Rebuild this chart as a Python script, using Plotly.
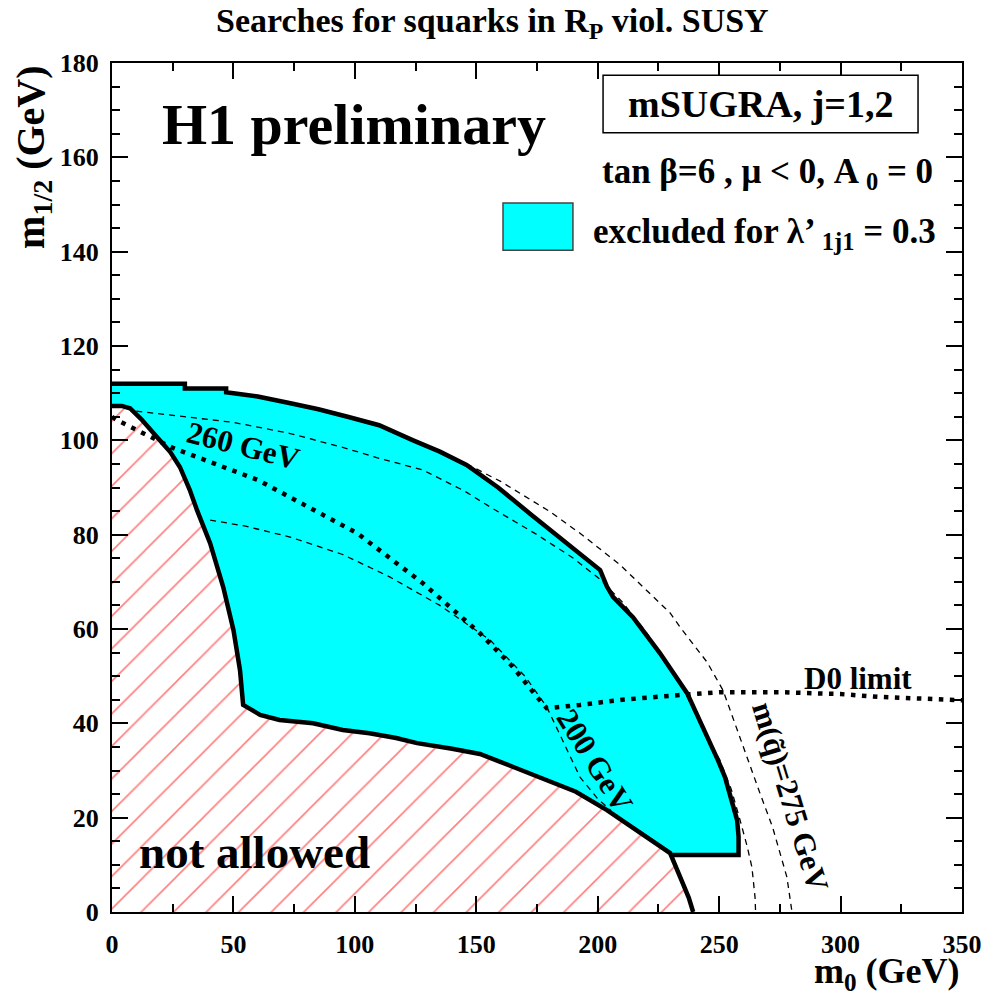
import plotly.graph_objects as go

# ---------------- data ----------------
# upper boundary of the excluded region (m0, m1/2) in GeV
outer_m0 = [0, 30, 30, 47, 47, 60, 73, 85, 97, 110, 124, 135, 146, 159, 172, 184,
            195.6, 201, 203.8, 206.3, 214.5, 225.6, 236.8, 242, 249.5, 252.4, 257.4,
            258, 258, 230.6]
outer_m12 = [112, 112, 111, 111, 110.2, 109.3, 107.9, 106.6, 105, 103.2, 100, 97.6,
             94.8, 90, 84.5, 79.6, 74.6, 72.5, 69, 66.8, 62.5, 54.9, 46.4, 40.7, 32.2,
             28.6, 19.5, 16, 12.1, 12.1]

# boundary of the theoretically not allowed region
na_m0 = [0, 4, 7.4, 12, 18.5, 24, 28, 32, 35, 40.4, 45.8, 50, 52.7, 53.5, 54, 57, 61,
         69, 82.8, 95, 106, 117, 125.6, 140, 151.5, 165, 179, 191, 203.8, 217.4, 229.8,
         235, 237.5, 239.3]
na_m12 = [107.3, 107.3, 106.8, 104.5, 100.7, 97.5, 94.3, 89.5, 85.2, 78.2, 68.9, 59.8,
          51.3, 47, 43.9, 43, 41.8, 40.7, 40, 38.6, 37.9, 36.9, 35.8, 34.6, 33.5, 30.8,
          28, 25.5, 21.6, 16.7, 12.5, 6.1, 3, 0]

# squark mass contours
sq260_m0 = [10, 30, 50, 73, 95, 110, 128, 145, 155.6, 175, 190, 201, 210, 220, 229,
            236, 243, 250.3, 255, 258.6, 261.5, 263.5, 264.8, 265]
sq260_m12 = [106.2, 105, 103.8, 101.5, 98.5, 96.2, 93.7, 89.3, 85.9, 80, 75, 70.5,
             65.8, 59.3, 52.5, 46.6, 39, 32.2, 26, 19.5, 14, 9.5, 3, 0]

sq200_m0 = [40.4, 55, 73.3, 95, 114.5, 135, 155.6, 170, 179, 186, 192.7, 200, 205.5]
sq200_m12 = [83.1, 81.8, 79.5, 75.8, 71, 65, 57.7, 50, 43.5, 36, 28.6, 24, 21.5]

sq275_m0 = [146, 160, 180, 192.7, 209, 229.8, 233.9, 245, 251.6, 259.8, 266.8, 272,
            277.9, 280]
sq275_m12 = [95, 91.3, 85, 80.3, 73.7, 63.4, 60.4, 53, 47, 35, 25.2, 18, 7.4, 0]

# D0 limit
d0_m0 = [0, 2, 25, 60, 101, 128, 151.5, 165, 175, 179, 192.7, 210, 233.9, 250, 275,
         300, 316, 348, 350]
d0_m12 = [105, 104.3, 98.4, 91.6, 80.3, 69.7, 59.1, 52, 45.6, 43.2, 43.9, 45, 46,
          46.6, 46.6, 46.2, 45.6, 44.9, 44.9]

x_tick_vals = [0, 50, 100, 150, 200, 250, 300, 350]
y_tick_vals = [0, 20, 40, 60, 80, 100, 120, 140, 160, 180]

# ---------------- figure ----------------
FONT = "Liberation Serif"
fig = go.Figure()

# hatched "not allowed" region
fig.add_trace(go.Scatter(
    x=[0] + na_m0 + [0], y=[0] + na_m12 + [0],
    mode="lines", fill="toself", line=dict(width=0, color="rgba(0,0,0,0)"),
    fillcolor="rgba(0,0,0,0)",
    fillpattern=dict(shape="/", fgcolor="#ff0000", bgcolor="white", size=23,
                     solidity=0.07),
    hoverinfo="skip", showlegend=False))

# excluded region (cyan)
inner_back = [(a, b) for a, b in zip(na_m0, na_m12) if a < outer_m0[-1]][::-1]
cx = outer_m0 + [p[0] for p in inner_back]
cy = outer_m12 + [p[1] for p in inner_back]
fig.add_trace(go.Scatter(x=cx, y=cy, mode="lines", fill="toself",
                         fillcolor="#00ffff", line=dict(width=0),
                         hoverinfo="skip", showlegend=False))

# dashed squark-mass contours
for xs, ys in [(sq260_m0, sq260_m12), (sq200_m0, sq200_m12), (sq275_m0, sq275_m12)]:
    fig.add_trace(go.Scatter(x=xs, y=ys, mode="lines",
                             line=dict(color="black", width=1.3, dash="6px,5px"),
                             hoverinfo="skip", showlegend=False))

# D0 limit (dotted)
fig.add_trace(go.Scatter(x=d0_m0, y=d0_m12, mode="lines",
                         line=dict(color="black", width=4.5, dash="4.5px,6.5px"),
                         hoverinfo="skip", showlegend=False))

# thick solid boundaries
fig.add_trace(go.Scatter(x=outer_m0, y=outer_m12, mode="lines",
                         line=dict(color="black", width=4.5),
                         hoverinfo="skip", showlegend=False))
fig.add_trace(go.Scatter(x=na_m0, y=na_m12, mode="lines",
                         line=dict(color="black", width=4.5),
                         hoverinfo="skip", showlegend=False))

axis_common = dict(
    showline=True, linewidth=2, linecolor="black", mirror="allticks",
    ticks="inside", ticklen=16, tickwidth=1.5, tickcolor="black",
    showgrid=False, zeroline=False, automargin=False,
    tickfont=dict(family=FONT, size=26, color="black", weight="bold"),
    minor=dict(ticks="inside", ticklen=8, tickwidth=1.5, tickcolor="black",
               showgrid=False),
)
fig.update_xaxes(range=[0, 350], tickvals=x_tick_vals, minor_dtick=25,
                 ticklabelstandoff=8, **axis_common)
fig.update_yaxes(range=[0, 180], tickvals=y_tick_vals, minor_dtick=5,
                 ticklabelstandoff=6, **axis_common)


def txt(text, x, y, size, xanchor="center", yanchor="middle", angle=0,
        xref="x", yref="y"):
    fig.add_annotation(text=text, x=x, y=y, xref=xref, yref=yref,
                       xanchor=xanchor, yanchor=yanchor, textangle=angle,
                       showarrow=False,
                       font=dict(family=FONT, size=size, color="black",
                                 weight="bold"))


# boxes
fig.add_shape(type="rect", x0=202.2, x1=331.9, y0=165.2, y1=177.4,
              line=dict(color="black", width=1.5), fillcolor="white", layer="above")
fig.add_shape(type="rect", x0=161, x1=189.8, y0=140.3, y1=150.3,
              line=dict(color="#444444", width=1.5), fillcolor="#00ffff", layer="above")

# texts
txt("Searches for squarks in R<sub>P</sub> viol. SUSY", 0.4476, 1.0475, 34,
    xref="paper", yref="paper")
txt("H1 preliminary", 99.6, 167, 58)
txt("mSUGRA, j=1,2", 267.2, 171.3, 38)
txt("tan β=6 , μ &lt; 0, A <sub>0</sub> = 0", 338.9, 156.6, 35, xanchor="right")
txt("excluded for λ’ <sub>1j1</sub> = 0.3", 197.2, 143.8, 35, xanchor="left")
txt("not allowed", 10.3, 12.7, 47, xanchor="left")
txt("D0 limit", 284, 49.6, 31, xanchor="left")
txt("260 GeV", 54, 99, 31, angle=14)
txt("200 GeV", 198.9, 32.2, 31, angle=58)
txt("m(q\u0303)=275 GeV", 279.2, 24.4, 31, angle=73)
txt("m<sub>0</sub> (GeV)", 1.0, -0.0725, 36, xanchor="right", yanchor="middle",
    xref="paper", yref="paper")
txt("m<sub>1/2</sub> (GeV)", -0.093, 1.0, 40, xanchor="center", yanchor="top",
    angle=-90, xref="paper", yref="paper")

fig.update_layout(
    width=985, height=994,
    margin=dict(l=112, r=23, t=63, b=82, pad=0, autoexpand=False),
    paper_bgcolor="white", plot_bgcolor="white",
    showlegend=False,
)

fig.write_html("out.html")
